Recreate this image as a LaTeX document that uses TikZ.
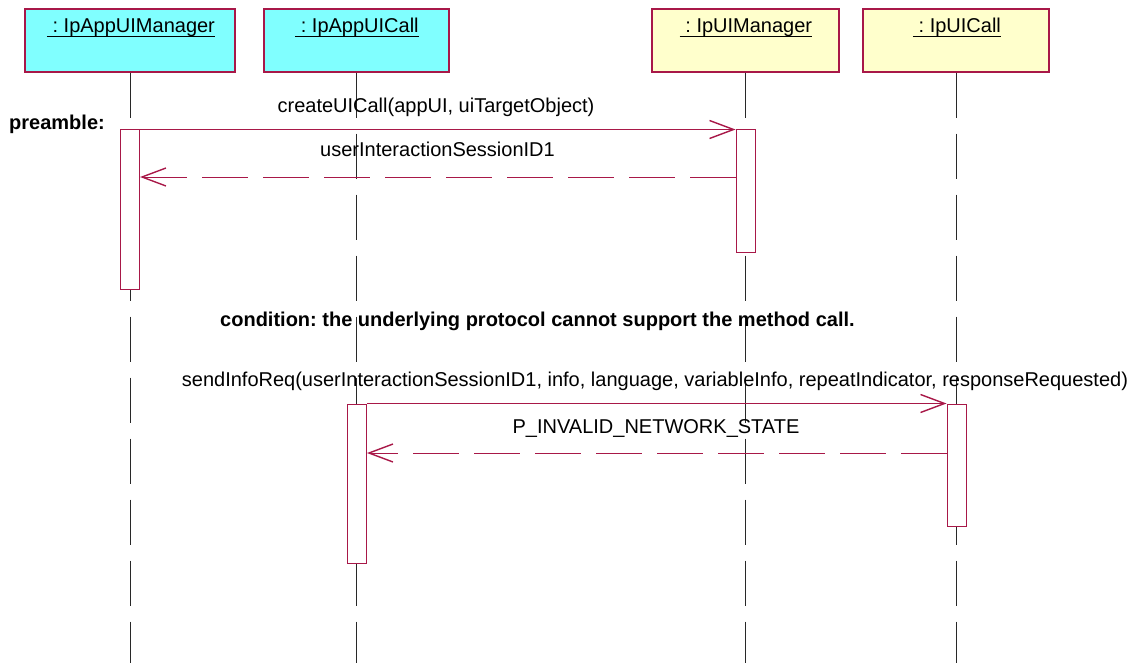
\documentclass[tikz,border=0pt]{standalone}
\usepackage{fontspec}
\setmainfont{Liberation Sans}
\usetikzlibrary{arrows.meta}
\definecolor{umlred}{RGB}{168,24,72}
\definecolor{objcyan}{RGB}{128,255,255}
\definecolor{objyellow}{RGB}{255,255,204}
\definecolor{lifegray}{RGB}{40,40,40}
\frenchspacing
\begin{document}
\begin{tikzpicture}[x=1pt,y=-1pt,
  font=\fontsize{20}{24}\selectfont,
  objbox/.style={draw=umlred, line width=1.1pt, minimum height=63pt, inner sep=0pt},
  objtitle/.style={inner sep=0pt, anchor=base},
  uline/.style={line width=1.6pt, black},
  lifeline/.style={draw=lifegray, line width=1pt, dash pattern=on 45pt off 16pt},
  actbox/.style={draw=umlred, fill=white, line width=1pt, minimum width=19pt, inner sep=0pt},
  calltip/.style={-{Straight Barb[length=24pt, width=18pt, line width=1.4pt]}},
  call/.style={draw=umlred, line width=1pt, calltip},
  ret/.style={draw=umlred, line width=1pt, dash pattern=on 46pt off 15pt, calltip},
  msglabel/.style={inner sep=0pt, anchor=base},
  boldlabel/.style={inner sep=0pt, anchor=base west, font=\fontsize{20}{24}\selectfont\bfseries}
]
\useasboundingbox (0,0) rectangle (1147,663);
\coordinate (bottom) at (0,663);

% object boxes
\node[objbox, fill=objcyan, minimum width=210pt] (b1) at (130,40.5) {};
\node[objbox, fill=objcyan, minimum width=185pt] (b2) at (356.5,40.5) {};
\node[objbox, fill=objyellow, minimum width=187pt] (b3) at (745.5,40.5) {};
\node[objbox, fill=objyellow, minimum width=186pt] (b4) at (956,40.5) {};

% titles
\node[objtitle] (t1) at (131,33) {\ : IpAppUIManager};
\node[objtitle] (t2) at (357,33) {\ : IpAppUICall};
\node[objtitle] (t3) at (746,33) {\ : IpUIManager};
\node[objtitle] (t4) at (957,33) {\ : IpUICall};
\foreach \t in {t1,t2,t3,t4}
  \draw[uline] ([yshift=-3.5pt]\t.base west) -- ([yshift=-3.5pt]\t.base east);

% lifelines
\foreach \b in {b1,b2,b3,b4}
  \draw[lifeline] (\b.south) -- (\b.south |- bottom);

% activation boxes
\node[actbox, minimum height=159pt] (a1) at (130,209.5) {};
\node[actbox, minimum height=122pt] (a3) at (745.5,191) {};
\node[actbox, minimum height=159pt] (a2) at (357,483.5) {};
\node[actbox, minimum height=122pt] (a4) at (956.5,465) {};

% message rows
\coordinate (r1y) at (0,177);
\coordinate (r2y) at (0,453);

\draw[call] (a1.north east) -- (a3.north west);
\draw[ret] (a3.west |- r1y) -- (a1.east |- r1y);
\draw[call] (a2.north east) -- (a4.north west);
\draw[ret] (a4.west |- r2y) -- (a2.east |- r2y);

% labels
\node[msglabel] (l1) at (436,113) {createUICall(appUI, uiTargetObject)};
\node[msglabel] (l2) at (437.5,157) {userInteractionSessionID1};
\node[msglabel] (l3) at (655,386) {sendInfoReq(userInteractionSessionID1, info, language, variableInfo, repeatIndicator, responseRequested)};
\node[msglabel] (l4) at (656,433) {P\_INVALID\_NETWORK\_STATE};
\node[boldlabel] (pre) at (9,130) {preamble:};
\node[boldlabel] (cond) at (220,326) {condition: the underlying protocol cannot support the method call.};
\end{tikzpicture}
\end{document}
